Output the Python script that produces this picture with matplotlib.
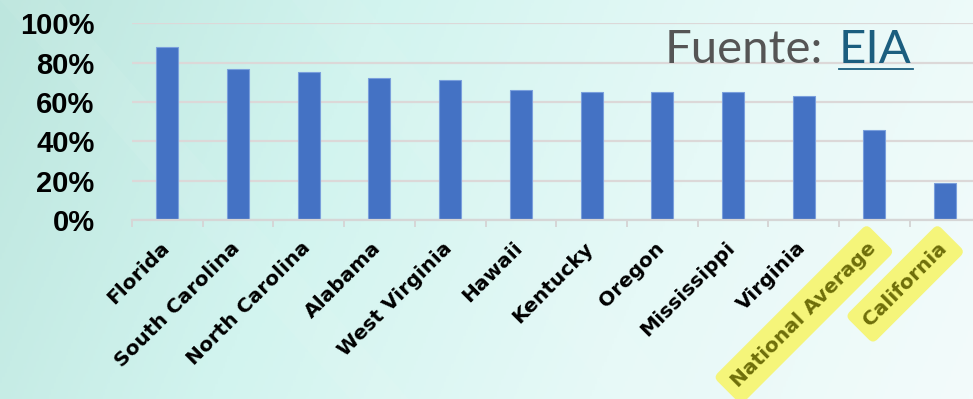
import matplotlib
matplotlib.use('Agg')
import matplotlib.pyplot as plt
import matplotlib.transforms as mtransforms
from matplotlib.colors import LinearSegmentedColormap
from matplotlib.ticker import PercentFormatter
import numpy as np

states = ['Florida', 'South Carolina', 'North Carolina', 'Alabama', 'West Virginia',
          'Hawaii', 'Kentucky', 'Oregon', 'Mississippi', 'Virginia',
          'National Average', 'California']
share = [0.88, 0.77, 0.75, 0.72, 0.71, 0.66, 0.65, 0.65, 0.65, 0.63, 0.46, 0.19]
highlighted = ['National Average', 'California']

W, H = 973, 399
fig = plt.figure(figsize=(W / 100, H / 100), dpi=100)

# background gradient (teal on the left fading to near white on the right)
bg = fig.add_axes([0, 0, 1, 1], zorder=-10)
gx, gy = np.meshgrid(np.linspace(0, 1, 400), np.linspace(0, 1, 200))
grad = np.clip(0.85 * gx + 0.15 * gy, 0, 1)
cmap = LinearSegmentedColormap.from_list('bg', ['#bde6de', '#d2f4ef', '#e6f9f7', '#f3fbfb'])
bg.imshow(grad, cmap=cmap, aspect='auto', extent=[0, 1, 0, 1], origin='upper')
# faint diagonal streaks
bg.fill([0.0, 0.06, 0.42, 0.36], [1.0, 1.0, 0.0, 0.0], color='white', alpha=0.06, lw=0)
bg.fill([0.30, 0.37, 0.70, 0.63], [1.0, 1.0, 0.0, 0.0], color='white', alpha=0.05, lw=0)
bg.set_xlim(0, 1)
bg.set_ylim(0, 1)
bg.axis('off')

# plot area in pixels: left 132, bottom axis at y=220, 100% at y=23.3
left, axis_y, top_y = 132, 220, 23.3
slot = 70.7
ax = fig.add_axes([left / W, (H - axis_y) / H, slot * len(states) / W, (axis_y - top_y) / H])
ax.patch.set_alpha(0)

x = np.arange(len(states))
ax.bar(x, share, width=0.31, color='#4472c4', edgecolor='#7a9fdc', linewidth=0.8, zorder=3)

ax.set_xlim(-0.5, len(states) - 0.5)
ax.set_ylim(0, 1)
ax.set_yticks(np.arange(0, 1.01, 0.2))
ax.yaxis.set_major_formatter(PercentFormatter(1.0, decimals=0))
ax.grid(axis='y', color='#dcd8d8', linewidth=1.6, zorder=0)
for lab in ax.get_yticklabels():
    lab.set_fontfamily('Liberation Sans')
    lab.set_fontweight('bold')
    lab.set_fontsize(21)
ax.tick_params(axis='y', length=0, pad=27)

ax.set_xticks([])
ax.set_xticks(np.arange(-0.5, len(states), 1), minor=True)
ax.tick_params(axis='x', which='minor', length=5, width=1.4, color='#d6d6d6')
ax.tick_params(axis='x', which='major', length=0)

for s in ['top', 'right', 'left']:
    ax.spines[s].set_visible(False)
ax.spines['bottom'].set_color('#d6d6d6')
ax.spines['bottom'].set_linewidth(1.6)
ax.spines['bottom'].set_zorder(4)

# rotated category labels, right end near the top of the slot
off = mtransforms.ScaledTranslation(-1 / 100, -25 / 100, fig.dpi_scale_trans)
trans = ax.get_xaxis_transform() + off
for i, name in enumerate(states):
    kw = {}
    color = 'black'
    if name in highlighted:
        color = '#6e6e0a'
        kw['bbox'] = dict(boxstyle='round,pad=0.5,rounding_size=0.3',
                          facecolor='#f5f57a', edgecolor='none')
    ax.text(i, 0, name, transform=trans, rotation=45, rotation_mode='anchor',
            ha='right', va='center', fontsize=14.5, fontweight='bold',
            family='DejaVu Sans', color=color, clip_on=False, **kw)

# source note
fig.text(823 / W, 1 - 63 / H, 'Fuente:', ha='right', va='baseline',
         fontsize=34, family='Lato', color='#555555')
fig.text(839 / W, 1 - 63 / H, 'EIA', ha='left', va='baseline',
         fontsize=34, family='Lato', color='#1b5e7f')
fig.add_artist(plt.Line2D([839 / W, 913 / W], [1 - 68.5 / H, 1 - 68.5 / H],
                          color='#1b5e7f', linewidth=1.3))

fig.savefig('out.png', dpi=100)
